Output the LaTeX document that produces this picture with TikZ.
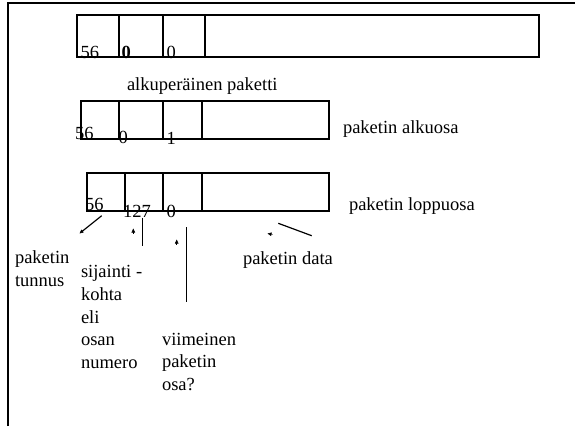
\documentclass[tikz,border=0pt]{standalone}
\usepackage{fontspec}
\setmainfont{Liberation Serif}
\usetikzlibrary{arrows.meta, positioning, calc}
\tikzset{
every node/.style={font=\fontsize{18.5bp}{23bp}\selectfont, inner sep=0pt, outer sep=0pt}, % text of the sheet
frame/.style={line width=1.3bp}, % page edge lines
field/.style={draw, line width=1.2bp}, % packet boxes and their fields
num/.style={anchor=base west}, % numbers in the fields
lbl/.style={anchor=base west}, % explaining texts
pointer/.style={line width=1.2bp}, % pointer lines
tip/.style={-{Triangle[length=4bp,width=3.5bp]}, line width=0.5bp, shorten <=3bp}, % loose arrow heads
}

\begin{document}
\begin{tikzpicture}[x=1bp, y=-1bp]
\useasboundingbox (0,0) rectangle (575,426);
\draw[frame] (8,426) -- (8,3) -- (575,3);

% original packet
\draw[field] (77,15) rectangle (539,57);
\foreach \d in {119,163,205} \draw[field] (\d,15) -- (\d,57);
\node[num] (orig-id) at (80.5,58) {56};
\node[num] (orig-pos) at (121.5,58) {\textbf{0}};
\node[num] (orig-last) at (166.5,58) {0};
\node[lbl] (orig) at (127,90) {alkuperäinen paketti};

% first part
\draw[field] (81,101) rectangle (329,139);
\foreach \d in {119,163,202} \draw[field] (\d,101) -- (\d,139);
\node[num] (first-id) at (75,139.5) {56};
\node[num] (first-pos) at (118.5,143) {0};
\node[num] (first-last) at (166.5,144) {1};
\node[lbl] (first) at (343,133) {paketin alkuosa};

% last part
\draw[field] (87,173) rectangle (329,211);
\foreach \d in {125,163,202} \draw[field] (\d,173) -- (\d,211);
\node[num] (id) at (85,210) {56};
\node[num] (pos) at (123,217) {127};
\node[num] (last) at (166.7,217) {0};
\node[lbl] (lastpart) at (349,210) {paketin loppuosa};

% explanations
\node[lbl] (tunnus-1) at (15,263) {paketin};
\node[lbl] (tunnus-2) at (15,286.5) {tunnus};
\foreach \w [count=\i] in {sijainti -, kohta, eli, osan, numero}
  \node[lbl] (kohta-\i) at (81,277.5+22.8*\i-22.8) {\w};
\foreach \w [count=\i] in {viimeinen, paketin, osa?}
  \node[lbl] (osa-\i) at (162,345+22.5*\i-22.5) {\w};
\node[lbl] (data) at (243,264) {paketin data};

% pointers
\coordinate (p1a) at (101.7,215.7); \coordinate (p1b) at (81.7,231.7);
\coordinate (p2a) at (142.7,217.7); \coordinate (p2b) at (142.7,246);
\coordinate (p3a) at (186.7,227);   \coordinate (p3b) at (186.7,301.7);
\coordinate (p4a) at (278.3,223.3); \coordinate (p4b) at (311.7,235.7);
\draw[pointer] (p1a) -- (p1b);
\draw[pointer] (p2a) -- (p2b);
\draw[pointer] (p3a) -- (p3b);
\draw[pointer] (p4a) -- (p4b);

% arrow heads
\coordinate (h1) at (79.5,233.5);
\coordinate (h2) at (133.3,228.5);
\coordinate (h3) at (176.7,239.5);
\coordinate (h4) at (267.5,233.5);
\draw[tip] ($(h1)+(6,-5)$) -- (h1);
\draw[tip] ($(h2)+(0,8)$) -- (h2);
\draw[tip] ($(h3)+(0,8)$) -- (h3);
\draw[tip] ($(h4)+(8,1.5)$) -- (h4);
\end{tikzpicture}
\end{document}
